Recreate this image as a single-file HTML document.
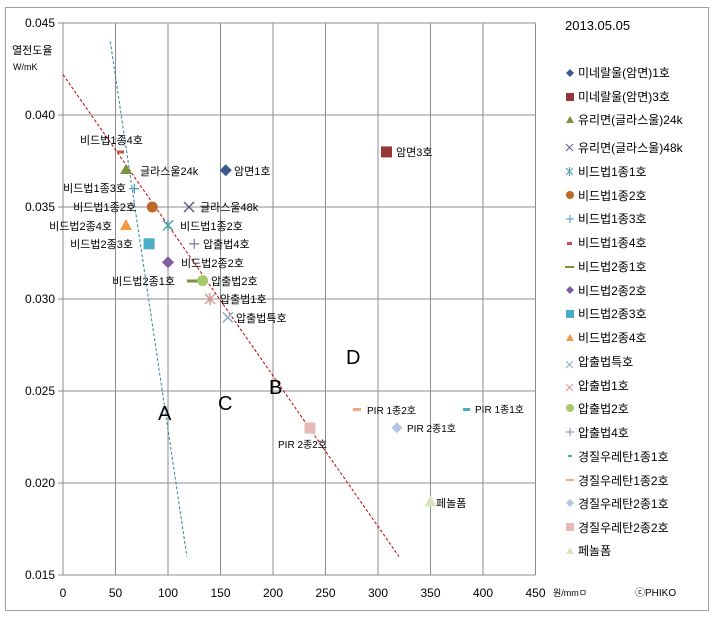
<!DOCTYPE html><html><head><meta charset="utf-8"><style>body{margin:0;background:#fff}svg{display:block}text{font-family:"Liberation Sans","Noto Sans CJK KR",sans-serif}</style></head><body>
<svg width="715" height="621" viewBox="0 0 715 621">
<rect x="5.5" y="7.5" width="703" height="603" fill="#fff" stroke="#a0a0a0"/>
<g stroke="#8c8c8c" stroke-width="1">
<line x1="63" y1="23" x2="63" y2="575"/><line x1="115.5" y1="23" x2="115.5" y2="575"/><line x1="168" y1="23" x2="168" y2="575"/><line x1="220.5" y1="23" x2="220.5" y2="575"/><line x1="273" y1="23" x2="273" y2="575"/><line x1="325.5" y1="23" x2="325.5" y2="575"/><line x1="378" y1="23" x2="378" y2="575"/><line x1="430.5" y1="23" x2="430.5" y2="575"/><line x1="483" y1="23" x2="483" y2="575"/><line x1="535.5" y1="23" x2="535.5" y2="575"/>
<line x1="58" y1="23" x2="535.5" y2="23"/><line x1="58" y1="115" x2="535.5" y2="115"/><line x1="58" y1="207" x2="535.5" y2="207"/><line x1="58" y1="299" x2="535.5" y2="299"/><line x1="58" y1="391" x2="535.5" y2="391"/><line x1="58" y1="483" x2="535.5" y2="483"/><line x1="58" y1="575" x2="535.5" y2="575"/>
</g>
<g font-size="12" fill="#000" text-anchor="end">
<text x="55" y="27">0.045</text><text x="55" y="119">0.040</text><text x="55" y="211">0.035</text><text x="55" y="303">0.030</text><text x="55" y="395">0.025</text><text x="55" y="487">0.020</text><text x="55" y="579">0.015</text>
</g>
<g font-size="12" text-anchor="middle">
<text x="63" y="597">0</text><text x="115.5" y="597">50</text><text x="168" y="597">100</text><text x="220.5" y="597">150</text><text x="273" y="597">200</text><text x="325.5" y="597">250</text><text x="378" y="597">300</text><text x="430.5" y="597">350</text><text x="483" y="597">400</text><text x="535.5" y="597">450</text>
</g>
<text x="12" y="54" font-size="11">열전도율</text><text x="13" y="70" font-size="9">W/mK</text>
<text x="553" y="596" font-size="9">원/mmㅁ</text><text x="635" y="596" font-size="10">ⓒPHIKO</text>
<text x="565" y="30" font-size="13">2013.05.05</text>
<line x1="110.25" y1="41.4" x2="186.9" y2="556.6" stroke="#31859c" stroke-width="1" stroke-dasharray="3,2"/>
<line x1="63" y1="74.5" x2="399" y2="556.6" stroke="#c00000" stroke-width="1" stroke-dasharray="3,2"/>
<g font-size="20"><text x="158" y="420">A</text><text x="218" y="410">C</text><text x="269" y="394">B</text><text x="346" y="364">D</text></g>
<!-- markers -->
<path d="M225.75 164.2l6 6-6 6-6-6z" fill="#3c5a8c"/>
<rect x="381" y="146.4" width="11" height="11" fill="#953735"/>
<path d="M126 164l6 10h-12z" fill="#77933c"/>
<path d="M184 202l10 10M194 202l-10 10" stroke="#5e5e88" stroke-width="1.5"/>
<circle cx="152.25" cy="207" r="5.5" fill="#c0672a"/>
<path d="M163 220.4l10 10M173 220.4l-10 10M168 220v11" stroke="#4b9ea8" stroke-width="1.5"/>
<path d="M129.4 188.6h10M134.4 183.6v10" stroke="#4b8fc0" stroke-width="1.3"/>
<rect x="117" y="150.5" width="7" height="3" fill="#c0504d"/>
<rect x="187" y="279.5" width="14" height="3" fill="#77933c"/>
<path d="M168 256.2l6 6-6 6-6-6z" fill="#7f5fa0"/>
<rect x="143.6" y="238.3" width="11" height="11" fill="#4bacc6"/>
<path d="M126 219l6 11h-12z" fill="#f79646"/>
<path d="M222.85 312.4l10 10M232.85 312.4l-10 10" stroke="#8ea9c8" stroke-width="1.5"/>
<path d="M205 294l10 10M215 294l-10 10M210 293v12" stroke="#d99694" stroke-width="1.5"/>
<circle cx="202.65" cy="280.6" r="5.5" fill="#a6c86a"/>
<path d="M189.25 243.8h10M194.25 238.8v10" stroke="#8a7ca8" stroke-width="1.3"/>
<rect x="463" y="408" width="7" height="3" fill="#4bacc6"/>
<rect x="353" y="408" width="8" height="3" fill="#f4a57a"/>
<path d="M396.9 422.3l5.5 5.5-5.5 5.5-5.5-5.5z" fill="#b3c5e0"/>
<rect x="304.5" y="422.5" width="11" height="11" fill="#e6b9b8"/>
<path d="M430.5 495.4l6 11h-12z" fill="#d7e4bd"/>
<!-- point labels -->
<g font-size="11" fill="#000">
<text x="80" y="144">비드법1종4호</text>
<text x="140" y="175">글라스울24k</text><text x="234" y="175">암면1호</text>
<text x="126" y="192" text-anchor="end">비드법1종3호</text>
<text x="136" y="211" text-anchor="end">비드법1종2호</text><text x="200" y="211">글라스울48k</text>
<text x="112" y="230" text-anchor="end">비드법2종4호</text><text x="180" y="230">비드법1종2호</text>
<text x="133" y="248" text-anchor="end">비드법2종3호</text><text x="203" y="248">압출법4호</text>
<text x="181" y="267">비드법2종2호</text>
<text x="175" y="285" text-anchor="end">비드법2종1호</text><text x="211" y="285">압출법2호</text>
<text x="220" y="303">압출법1호</text><text x="236" y="322">압출법특호</text>
<text x="396" y="156">암면3호</text>
<text x="367" y="414" font-size="10">PIR 1종2호</text><text x="475" y="413" font-size="10">PIR 1종1호</text>
<text x="407" y="432" font-size="10">PIR 2종1호</text><text x="278" y="448" font-size="10">PIR 2종2호</text>
<text x="436" y="507">페놀폼</text>
</g>
<!-- legend -->
<g font-size="12">
<path d="M570 69l4 4-4 4-4-4z" fill="#3c5a8c"/><text x="578" y="77">미네랄울(암면)1호</text>
<rect x="566" y="93" width="8" height="8" fill="#953735"/><text x="578" y="101">미네랄울(암면)3호</text>
<path d="M570 116l4 7h-8z" fill="#77933c"/><text x="578" y="124">유리면(글라스울)24k</text>
<path d="M566 144l7 7M573 144l-7 7" stroke="#5e5e88"/><text x="578" y="152">유리면(글라스울)48k</text>
<path d="M566 168l7 7M573 168l-7 7M569.5 167v9" stroke="#4b9ea8"/><text x="578" y="176">비드법1종1호</text>
<circle cx="570" cy="195" r="4" fill="#c0672a"/><text x="578" y="200">비드법1종2호</text>
<path d="M566 219h8M570 215v8" stroke="#4b8fc0"/><text x="578" y="223">비드법1종3호</text>
<rect x="567" y="242" width="5" height="3" fill="#c0504d"/><text x="578" y="247">비드법1종4호</text>
<rect x="565" y="266" width="9" height="2" fill="#77933c"/><text x="578" y="271">비드법2종1호</text>
<path d="M570 286l4 4-4 4-4-4z" fill="#7f5fa0"/><text x="578" y="295">비드법2종2호</text>
<rect x="566" y="310" width="8" height="8" fill="#4bacc6"/><text x="578" y="318">비드법2종3호</text>
<path d="M570 334l4 7h-8z" fill="#f79646"/><text x="578" y="342">비드법2종4호</text>
<path d="M566 361l7 7M573 361l-7 7" stroke="#8ea9c8"/><text x="578" y="366">압출법특호</text>
<path d="M566 384l7 7M573 384l-7 7" stroke="#d99694"/><text x="578" y="390">압출법1호</text>
<circle cx="570" cy="408" r="4" fill="#a6c86a"/><text x="578" y="413">압출법2호</text>
<path d="M566 432h8M570 428v8" stroke="#8a7ca8"/><text x="578" y="437">압출법4호</text>
<rect x="568" y="455" width="4" height="2" fill="#4bacc6"/><text x="578" y="461">경질우레탄1종1호</text>
<rect x="566" y="479" width="8" height="2" fill="#f4a57a"/><text x="578" y="485">경질우레탄1종2호</text>
<path d="M570 499l4 4-4 4-4-4z" fill="#b3c5e0"/><text x="578" y="508">경질우레탄2종1호</text>
<rect x="566" y="523" width="8" height="8" fill="#e6b9b8"/><text x="578" y="532">경질우레탄2종2호</text>
<path d="M570 547l4 7h-8z" fill="#d7e4bd"/><text x="578" y="555">페놀폼</text>
</g>
</svg></body></html>
